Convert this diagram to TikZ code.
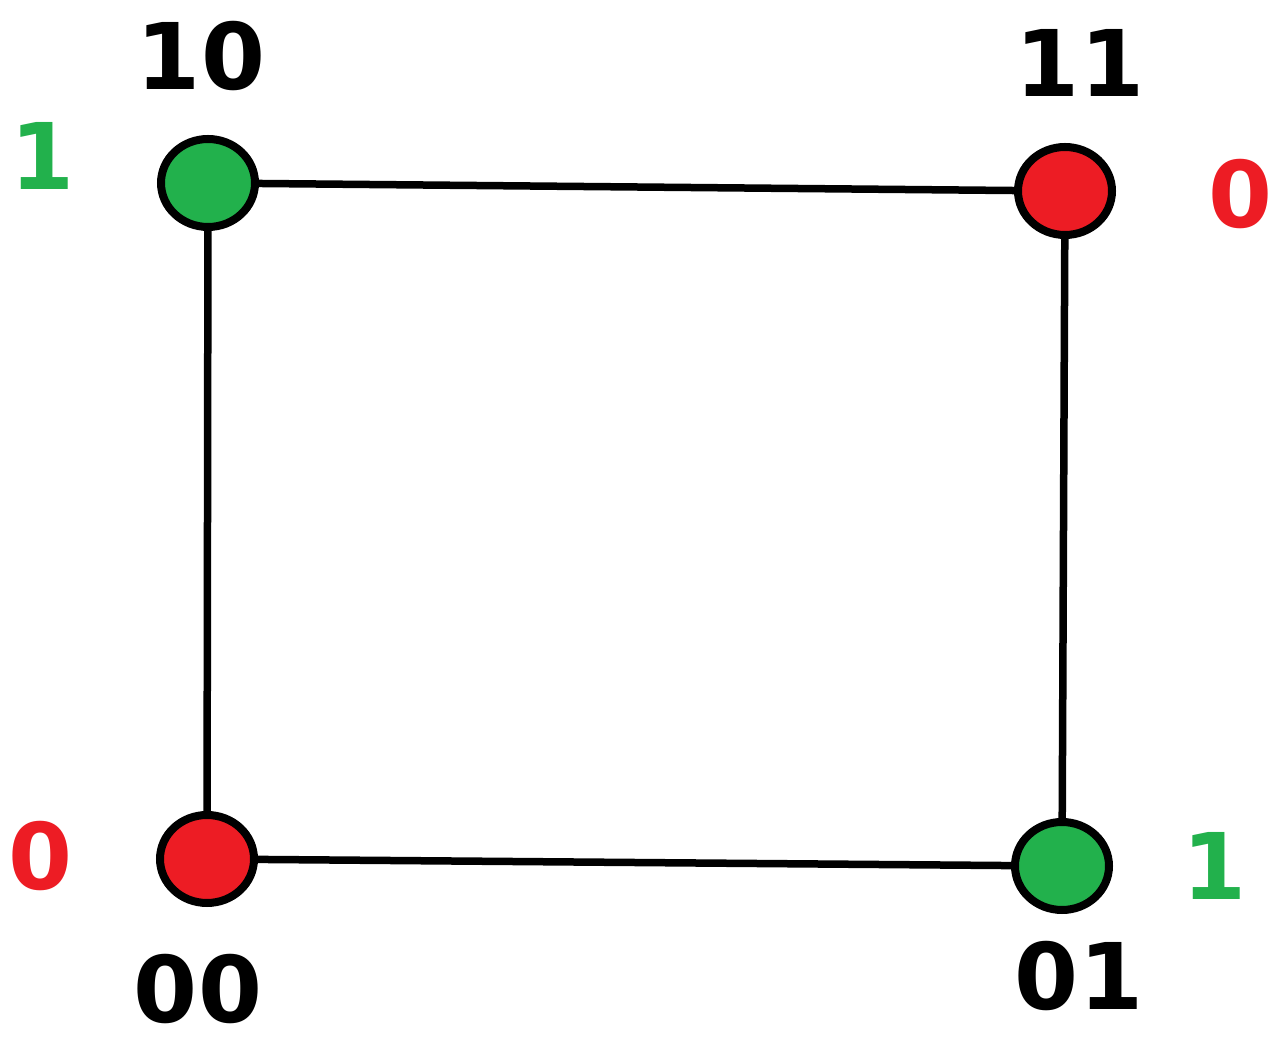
\documentclass[tikz,border=0pt]{standalone}
\usepackage{fontspec}
\setmainfont{DejaVu Sans}
\usetikzlibrary{shapes.geometric}
\definecolor{pgreen}{RGB}{34,177,76}
\definecolor{pred}{RGB}{237,28,36}
\begin{document}
\begin{tikzpicture}[x=1pt,y=1pt,
  vert/.style={ellipse,draw=black,line width=8pt,minimum width=94pt,minimum height=88pt,inner sep=0pt},
  lbl/.style={anchor=base,inner sep=0pt,font=\fontsize{92}{92}\selectfont\bfseries},
  edge/.style={line width=7.5pt}]
\useasboundingbox (0,0) rectangle (1278,1045);
\node[vert,fill=pgreen] (n10) at (208,862) {};
\node[vert,fill=pred] (n11) at (1065,854) {};
\node[vert,fill=pred] (n00) at (207,186) {};
\node[vert,fill=pgreen] (n01) at (1062,179) {};
\draw[edge] (n10) -- (n11);
\draw[edge] (n10) -- (n00);
\draw[edge] (n11) -- (n01);
\draw[edge] (n00) -- (n01);
\node[lbl] (t10) at (201,955) {10};
\node[lbl] (t11) at (1080,948) {11};
\node[lbl] (t00) at (198,23) {00};
\node[lbl] (t01) at (1079,35) {01};
\node[lbl,text=pgreen] (v10) at (43,855) {1};
\node[lbl,text=pred] (v11) at (1240,817) {0};
\node[lbl,text=pred] (v00) at (41,155) {0};
\node[lbl,text=pgreen] (v01) at (1214,145) {1};
\end{tikzpicture}
\end{document}
